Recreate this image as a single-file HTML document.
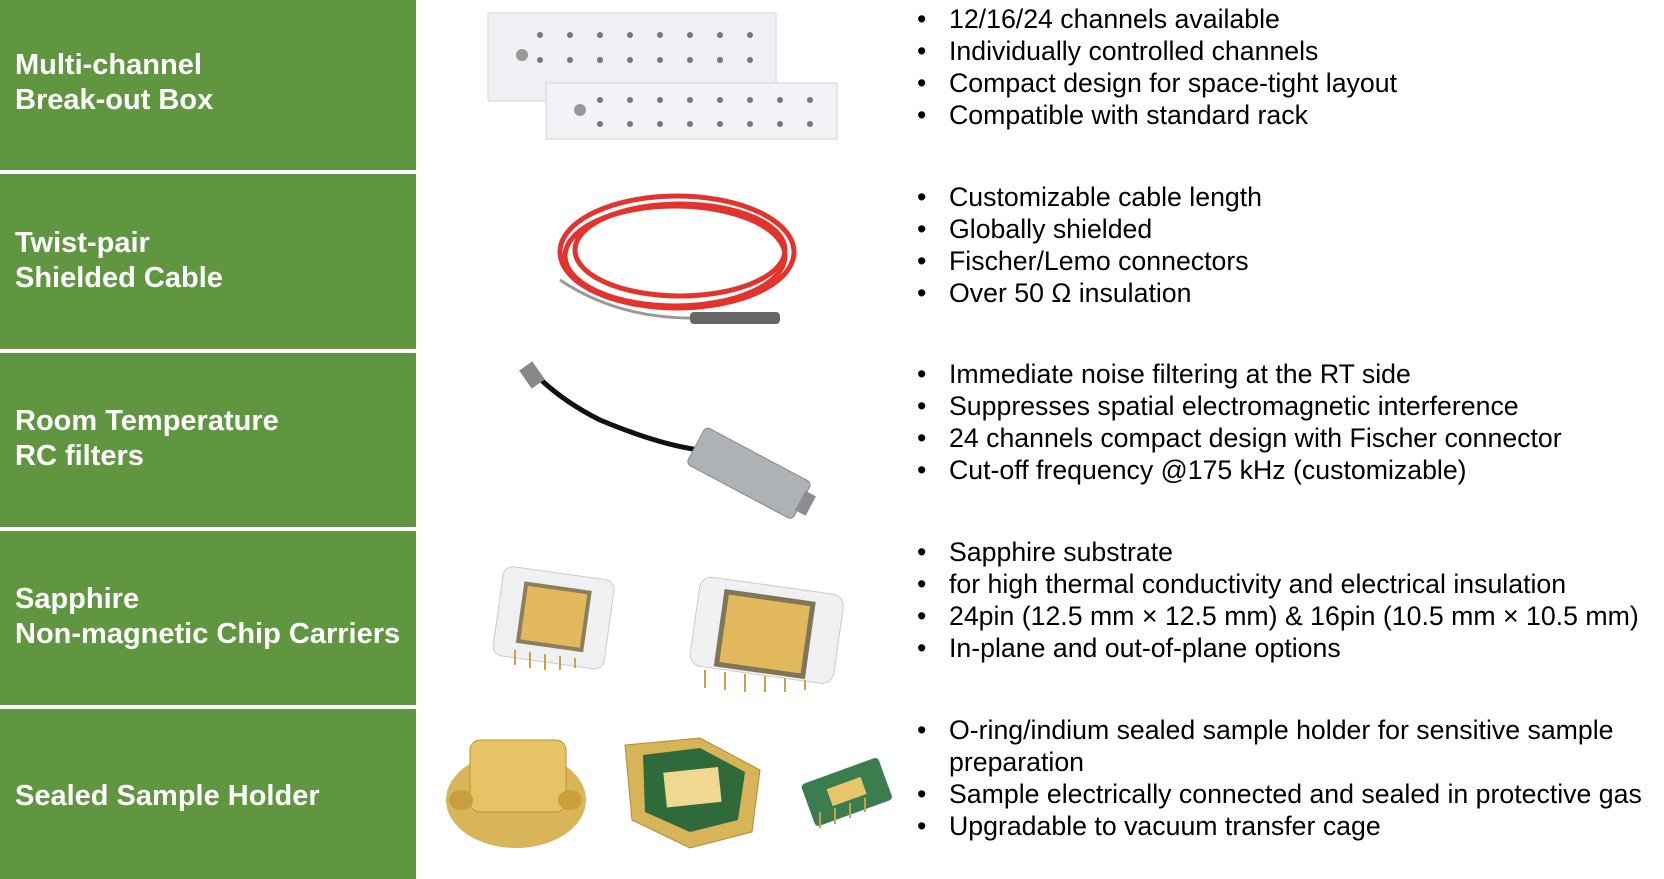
<!DOCTYPE html>
<html><head><meta charset="utf-8"><style>
html,body{margin:0;padding:0;background:#fff;}
body{width:1664px;height:879px;position:relative;overflow:hidden;font-family:"Liberation Sans",Arial,sans-serif;}
.g{position:absolute;left:0;width:416px;background:#609640;}
.gt{position:absolute;left:15px;color:#fff;font-weight:bold;font-size:29px;line-height:35px;}
.b{position:absolute;left:917px;font-size:26.7px;line-height:32px;color:#000;white-space:nowrap;}
.b div{position:relative;padding-left:32px;}
.b div:before{content:"•";position:absolute;left:0;}
.b div.nb:before{content:"";}
svg{position:absolute;left:0;top:0;}
</style></head><body>
<div class="g" style="top:0;height:170px"></div>
<div class="g" style="top:174px;height:175px"></div>
<div class="g" style="top:353px;height:174px"></div>
<div class="g" style="top:531px;height:174px"></div>
<div class="g" style="top:709px;height:170px"></div>
<div class="gt" style="top:48px">Multi-channel<br>Break-out Box</div>
<div class="gt" style="top:226px">Twist-pair<br>Shielded Cable</div>
<div class="gt" style="top:404px">Room Temperature<br>RC filters</div>
<div class="gt" style="top:582px">Sapphire<br>Non-magnetic Chip Carriers</div>
<div class="gt" style="top:779px">Sealed Sample Holder</div>

<div class="b" style="top:3px"><div>12/16/24 channels available</div><div>Individually controlled channels</div><div>Compact design for space-tight layout</div><div>Compatible with standard rack</div></div>
<div class="b" style="top:181px"><div>Customizable cable length</div><div>Globally shielded</div><div>Fischer/Lemo connectors</div><div>Over 50 Ω insulation</div></div>
<div class="b" style="top:358px"><div>Immediate noise filtering at the RT side</div><div>Suppresses spatial electromagnetic interference</div><div>24 channels compact design with Fischer connector</div><div>Cut-off frequency @175 kHz (customizable)</div></div>
<div class="b" style="top:536px"><div>Sapphire substrate</div><div>for high thermal conductivity and electrical insulation</div><div>24pin (12.5 mm × 12.5 mm) &amp; 16pin (10.5 mm × 10.5 mm)</div><div>In-plane and out-of-plane options</div></div>
<div class="b" style="top:714px"><div>O-ring/indium sealed sample holder for sensitive sample</div><div class="nb">preparation</div><div>Sample electrically connected and sealed in protective gas</div><div>Upgradable to vacuum transfer cage</div></div>

<svg width="1664" height="879">
<rect x="488" y="13" width="288" height="88" fill="#eef0f4" stroke="#d0d4da"/>
<g fill="#777">
<circle cx="540" cy="35" r="3"/><circle cx="570" cy="35" r="3"/><circle cx="600" cy="35" r="3"/><circle cx="630" cy="35" r="3"/><circle cx="660" cy="35" r="3"/><circle cx="690" cy="35" r="3"/><circle cx="720" cy="35" r="3"/><circle cx="750" cy="35" r="3"/>
<circle cx="540" cy="60" r="3"/><circle cx="570" cy="60" r="3"/><circle cx="600" cy="60" r="3"/><circle cx="630" cy="60" r="3"/><circle cx="660" cy="60" r="3"/><circle cx="690" cy="60" r="3"/><circle cx="720" cy="60" r="3"/><circle cx="750" cy="60" r="3"/>
</g>
<circle cx="522" cy="55" r="6" fill="#999"/>
<rect x="546" y="83" width="291" height="56" fill="#f1f3f6" stroke="#d0d4da"/>
<g fill="#777">
<circle cx="600" cy="100" r="3"/><circle cx="630" cy="100" r="3"/><circle cx="660" cy="100" r="3"/><circle cx="690" cy="100" r="3"/><circle cx="720" cy="100" r="3"/><circle cx="750" cy="100" r="3"/><circle cx="780" cy="100" r="3"/><circle cx="810" cy="100" r="3"/>
<circle cx="600" cy="124" r="3"/><circle cx="630" cy="124" r="3"/><circle cx="660" cy="124" r="3"/><circle cx="690" cy="124" r="3"/><circle cx="720" cy="124" r="3"/><circle cx="750" cy="124" r="3"/><circle cx="780" cy="124" r="3"/><circle cx="810" cy="124" r="3"/>
</g>
<circle cx="580" cy="110" r="6" fill="#999"/>
<g fill="none" stroke="#e2332c" stroke-width="5">
<ellipse cx="677" cy="252" rx="117" ry="56"/>
<ellipse cx="675" cy="256" rx="110" ry="50"/>
<ellipse cx="680" cy="250" rx="105" ry="46"/>
</g>
<path d="M560 280 Q620 320 700 318" stroke="#999" stroke-width="3" fill="none"/>
<rect x="690" y="312" width="90" height="12" rx="4" fill="#666"/>
<path d="M533 372 Q560 400 600 420 Q660 445 700 450" stroke="#111" stroke-width="5" fill="none"/>
<rect x="524" y="364" width="16" height="22" fill="#888" transform="rotate(-35 532 375)"/>
<g transform="rotate(28 745 470)"><rect x="690" y="450" width="120" height="42" rx="5" fill="#aeb2b6" stroke="#888"/><rect x="808" y="460" width="12" height="22" fill="#8a8e92"/></g>
<g transform="rotate(8 548 615)"><rect x="498" y="572" width="112" height="90" rx="10" fill="#eef0f1" stroke="#ccc"/><rect x="520" y="585" width="68" height="62" fill="#8a7e5c"/><rect x="524" y="589" width="60" height="54" fill="#e2b85c"/></g>
<g stroke="#c9a24a" stroke-width="2"><line x1="515" y1="650" x2="515" y2="665"/><line x1="530" y1="652" x2="530" y2="668"/><line x1="545" y1="654" x2="545" y2="670"/><line x1="560" y1="656" x2="560" y2="670"/><line x1="575" y1="658" x2="575" y2="668"/></g>
<g transform="rotate(8 765 625)"><rect x="695" y="585" width="145" height="90" rx="12" fill="#eef0f1" stroke="#ccc"/><rect x="720" y="595" width="92" height="78" fill="#7f7658"/><rect x="725" y="600" width="82" height="68" fill="#e2b85c"/></g>
<g stroke="#c9a24a" stroke-width="2"><line x1="705" y1="670" x2="705" y2="688"/><line x1="725" y1="672" x2="725" y2="690"/><line x1="745" y1="674" x2="745" y2="692"/><line x1="765" y1="676" x2="765" y2="692"/><line x1="785" y1="678" x2="785" y2="692"/><line x1="805" y1="680" x2="805" y2="690"/></g>
<ellipse cx="516" cy="800" rx="70" ry="48" fill="#d9b55a"/>
<rect x="470" y="740" width="96" height="72" rx="10" fill="#e7c366" stroke="#b8913c"/>
<ellipse cx="461" cy="800" rx="12" ry="10" fill="#c99e3c"/><ellipse cx="570" cy="800" rx="12" ry="10" fill="#c99e3c"/>
<path d="M625 745 L700 738 L760 770 L752 832 L690 848 L632 820 Z" fill="#d7b458" stroke="#b08b3a"/>
<path d="M643 755 L700 748 L745 772 L738 820 L690 832 L645 812 Z" fill="#2f6a3a"/>
<rect x="665" y="770" width="55" height="35" fill="#f0d890" transform="rotate(-6 690 788)"/>
<g transform="rotate(-20 845 790)"><rect x="805" y="770" width="82" height="45" rx="4" fill="#3c7d50"/><rect x="828" y="783" width="36" height="18" fill="#e8c56a"/></g>
<g stroke="#c9a24a" stroke-width="2"><line x1="820" y1="812" x2="820" y2="828"/><line x1="835" y1="808" x2="835" y2="824"/><line x1="850" y1="803" x2="850" y2="818"/><line x1="865" y1="798" x2="865" y2="812"/></g>
</svg>
</body></html>
